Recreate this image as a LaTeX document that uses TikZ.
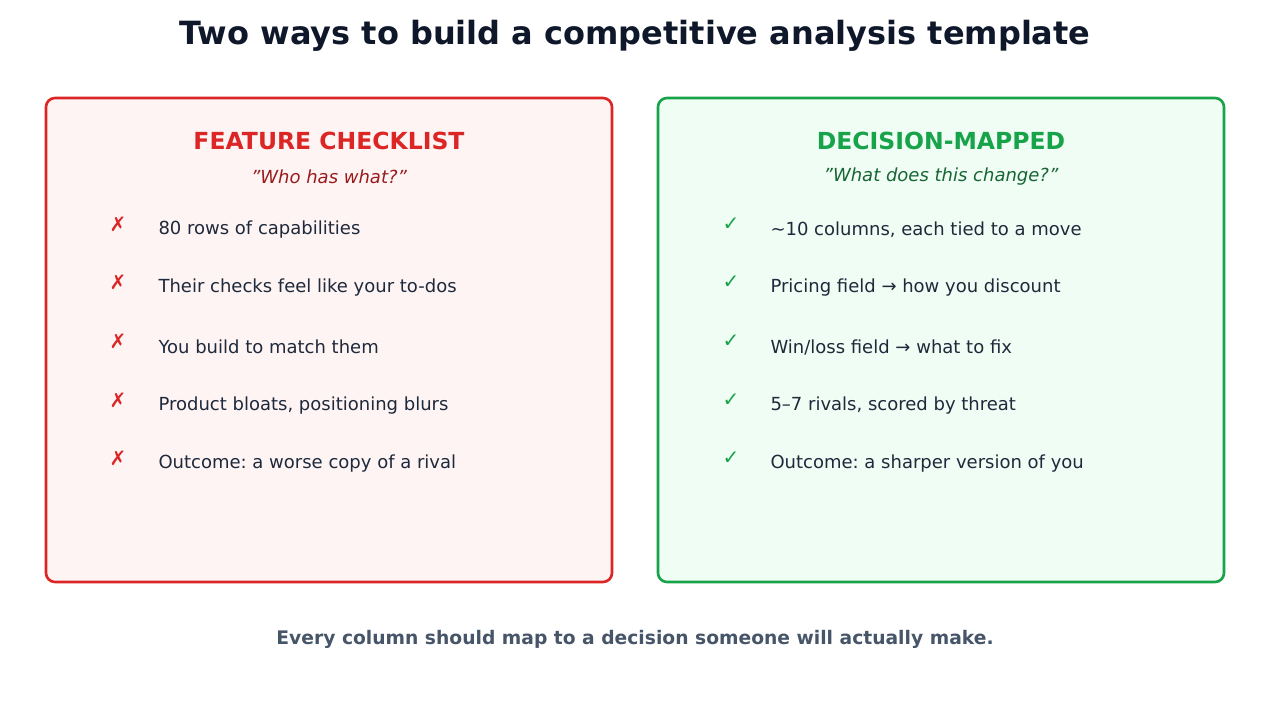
\documentclass[tikz,border=0pt]{standalone}
\usepackage{fontspec}
\setmainfont{DejaVu Sans}
\definecolor{titlec}{HTML}{0F172A}
\definecolor{redc}{HTML}{DC2626}
\definecolor{redf}{HTML}{FEF4F4}
\definecolor{redsub}{HTML}{991B1B}
\definecolor{greenc}{HTML}{16A34A}
\definecolor{greenf}{HTML}{F0FDF4}
\definecolor{greensub}{HTML}{166534}
\definecolor{itemc}{HTML}{1E293B}
\definecolor{footc}{HTML}{475569}
\newcommand{\sq}{{\char"22}}
\tikzset{
 panel/.style={line width=2.6pt, rounded corners=9pt},
 item/.style={anchor=west, text=itemc, font=\fontsize{18}{21}\selectfont},
 tickmark/.style={font=\fontsize{20}{22}\selectfont},
 head/.style={font=\bfseries\fontsize{23.5}{28}\selectfont},
 sub/.style={font=\itshape\fontsize{18}{21}\selectfont},
}
\begin{document}
\frenchspacing
\begin{tikzpicture}[x=1pt,y=-1pt]
\useasboundingbox (0,0) rectangle (1270,709);
\node[text=titlec, font=\bfseries\fontsize{32}{37}\selectfont] (title) at (635,36) {Two ways to build a competitive analysis template};
\draw[panel, draw=redc, fill=redf] (46,98) rectangle (612,582);
\draw[panel, draw=greenc, fill=greenf] (658,98) rectangle (1224,582);
\node[head, text=redc] (lh) at (329,141) {FEATURE CHECKLIST};
\node[sub, text=redsub] (ls) at (329,177) {\sq Who has what?\sq};
\node[head, text=greenc] (rh) at (941,141) {DECISION-MAPPED};
\node[sub, text=greensub] (rs) at (941,177) {\sq What does this change?\sq};
\foreach \y/\t [count=\i] in {230/80 rows of capabilities, 288/Their checks feel like your to-dos, 347/You build to match them, 406/{Product bloats, positioning blurs}, 464/Outcome: a worse copy of a rival}{
 \node[tickmark, text=redc] (lm\i) at (118,\y-6) {✗};
 \node[item] (lt\i) at (155,\y) {\t};
}
\foreach \y/\t [count=\i] in {230/{\textasciitilde10 columns, each tied to a move}, 288/Pricing field → how you discount, 347/{Win/loss field → what to fix}, 406/{5–7 rivals, scored by threat}, 464/Outcome: a sharper version of you}{
 \node[tickmark, text=greenc] (rm\i) at (731,\y-6) {✓};
 \node[item] (rt\i) at (767,\y) {\t};
}
\node[text=footc, font=\bfseries\fontsize{18.7}{22}\selectfont] (foot) at (635,639) {Every column should map to a decision someone will actually make.};
\end{tikzpicture}
\end{document}
